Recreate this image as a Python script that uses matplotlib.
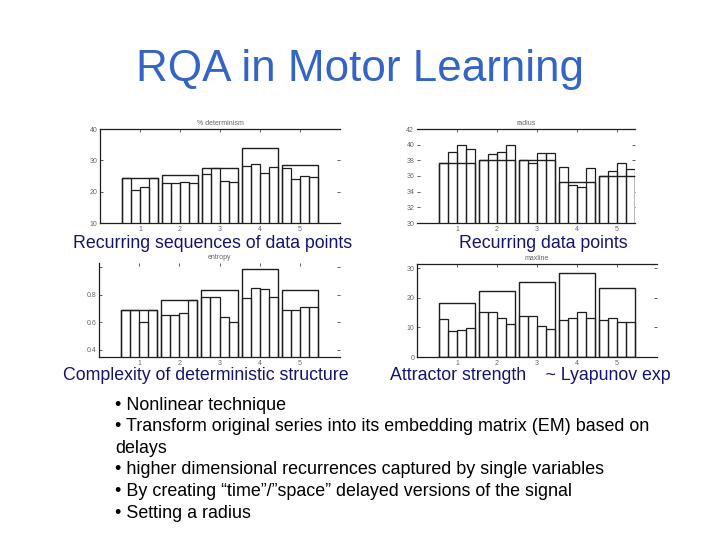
"""RQA in Motor Learning slide: four small MATLAB-style bar panels plus bullet text."""

import matplotlib.pyplot as plt
import numpy as np

W, H = 720, 540

GROUPS = [1, 2, 3, 4, 5]

# % determinism
DET_MEAN = [24.4, 25.3, 27.5, 33.8, 28.4]
DET_SUB = [
    [24.4, 20.4, 21.5, 24.4],
    [22.8, 22.9, 23.2, 22.8],
    [25.6, 27.5, 23.5, 23.0],
    [28.2, 28.9, 26.0, 27.9],
    [27.7, 24.0, 25.0, 24.8],
]

# radius
RAD_MEAN = [37.6, 38.1, 38.1, 35.2, 36.0]
RAD_SUB = [
    [37.6, 39.1, 39.9, 39.4],
    [38.1, 38.8, 39.1, 40.0],
    [38.1, 37.7, 38.9, 38.9],
    [37.1, 34.8, 34.6, 37.0],
    [36.0, 36.7, 37.7, 36.9],
]

# entropy
ENT_MEAN = [0.685, 0.758, 0.832, 0.986, 0.830]
ENT_SUB = [
    [0.685, 0.690, 0.600, 0.685],
    [0.650, 0.655, 0.665, 0.758],
    [0.783, 0.783, 0.640, 0.600],
    [0.775, 0.845, 0.840, 0.780],
    [0.685, 0.685, 0.707, 0.707],
]

# maxline
MAX_MEAN = [18.2, 22.2, 25.3, 28.3, 23.3]
MAX_SUB = [
    [12.8, 8.9, 9.3, 9.8],
    [15.1, 15.1, 13.1, 11.2],
    [13.9, 13.9, 10.6, 9.4],
    [12.6, 13.1, 15.2, 13.1],
    [12.6, 13.1, 12.0, 12.0],
]

BULLETS = [
    "\u2022 Nonlinear technique",
    "\u2022 Transform original series into its embedding matrix (EM) based on",
    "delays",
    "\u2022 higher dimensional recurrences captured by single variables",
    "\u2022 By creating \u201ctime\u201d/\u201dspace\u201d delayed versions of the signal",
    "\u2022 Setting a radius",
]

EDGE = "#1e1e1e"
TICK_GRAY = "#666666"
NAVY = "#14146e"

plt.rcParams["font.family"] = ["Liberation Sans", "DejaVu Sans"]

fig = plt.figure(figsize=(W / 100, H / 100), dpi=100)
fig.patch.set_facecolor("white")


def px_axes(x0, y0, x1, y1):
    return fig.add_axes([x0 / W, 1 - y1 / H, (x1 - x0) / W, (y1 - y0) / H])


def panel(rect, title, means, subs, xlim, ylim, yticks, ylabels, spines):
    ax = px_axes(*rect)
    x = np.array(GROUPS, dtype=float)
    ax.bar(x, means, width=0.9, facecolor="white", edgecolor=EDGE, linewidth=1.0, zorder=2)
    sub = np.array(subs)
    sw = 0.9 / sub.shape[1]
    for j in range(sub.shape[1]):
        ax.bar(x - 0.45 + j * sw, sub[:, j], width=sw, align="edge",
               facecolor="none", edgecolor=EDGE, linewidth=0.9, zorder=3)
    ax.set_xlim(*xlim)
    ax.set_ylim(*ylim)
    ax.set_xticks(GROUPS)
    ax.set_xticklabels([str(g) for g in GROUPS])
    ax.set_yticks(yticks)
    ax.set_yticklabels(ylabels)
    ax.tick_params(direction="in", length=2.5, width=0.6, labelsize=5,
                   labelcolor=TICK_GRAY, color="#444444", top=True, right=True, pad=2)
    for side in ("left", "right", "top", "bottom"):
        ax.spines[side].set_visible(side in spines)
        ax.spines[side].set_color(EDGE)
        ax.spines[side].set_linewidth(0.9)
    ax.set_title(title, fontsize=5, color=TICK_GRAY, pad=3)
    return ax


panel((100, 129, 340, 223), "% determinism", DET_MEAN, DET_SUB, (0, 6), (10, 40),
      [10, 20, 30, 40], ["10", "20", "30", "40"], ("left", "top", "bottom"))
panel((417, 129, 635, 223), "radius", RAD_MEAN, RAD_SUB, (0, 5.45), (30, 42),
      [30, 32, 34, 36, 38, 40, 42], ["30", "32", "34", "36", "38", "40", "42"],
      ("top", "bottom"))
panel((99, 263, 340, 357), "entropy", ENT_MEAN, ENT_SUB, (0, 6), (0.346, 1.03),
      [0.4, 0.6, 0.8, 1.0], ["0.4", "0.6", "0.8", ""], ("left", "bottom"))
panel((417, 264, 657, 357), "maxline", MAX_MEAN, MAX_SUB, (0, 6), (0, 31.5),
      [0, 10, 20, 30], ["0", "10", "20", "30"], ("left", "top", "bottom"))

fig.text(360 / W, 1 - 69 / H, "RQA in Motor Learning", ha="center", va="center",
         fontsize=31.7, color="#3465c6")

captions = [
    (213, 243, "Recurring sequences of data points"),
    (543, 243, "Recurring data points"),
    (206, 376, "Complexity of deterministic structure"),
    (530, 376, "Attractor strength    ~ Lyapunov exp"),
]
for cx, cy, txt in captions:
    fig.text(cx / W, 1 - cy / H, txt, ha="center", va="center", fontsize=12.8,
             color=NAVY, zorder=10)

for i, line in enumerate(BULLETS):
    fig.text(115 / W, 1 - (405 + i * 21.6) / H, line, ha="left", va="center",
             fontsize=12.9, color="black")

fig.savefig("out.png", dpi=100, facecolor="white")
